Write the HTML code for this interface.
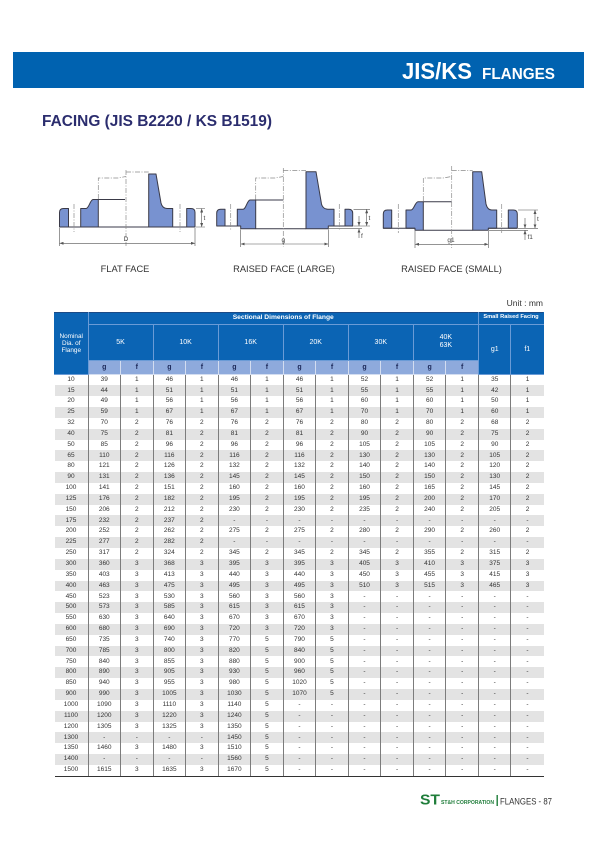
<!DOCTYPE html>
<html>
<head>
<meta charset="utf-8">
<style>
html,body{margin:0;padding:0;background:#fff;}
body{width:600px;height:848px;position:relative;overflow:hidden;font-family:"Liberation Sans",sans-serif;}
svg.ov{position:absolute;left:0;top:0;}
table.t{position:absolute;left:54px;top:312px;width:489px;border-collapse:collapse;table-layout:fixed;font-family:"Liberation Sans",sans-serif;}
table.t td{padding:0;text-align:center;vertical-align:middle;line-height:1;overflow:hidden;white-space:nowrap;}
.h td{background:#0b64b4;color:#fff;border:1px solid #6a9bd6;font-size:7px;}
.h1 td{border-top:1px solid #1b4a86;}
.h td.bl{border-left:1px solid #0b64b4;}
.h td.br{border-right:1px solid #0b64b4;}
.h1 td.s{font-weight:bold;font-size:6.7px;}
.h1 td.s2{font-weight:bold;font-size:5.7px;}
td.nom{font-size:6.4px;line-height:7px !important;}
.sub td{background:#8eaadc;color:#1c2858;font-weight:bold;border:1px solid #d3ddf0;font-size:7px;}
tbody.d td{font-size:6.5px;color:#333;border-left:1px solid #7c7c7c;border-right:1px solid #7c7c7c;height:10.85px;}
tbody.d tr{height:10.85px;}
tbody.d tr:nth-child(even) td{background:#e3e3e3;}
tbody.d td:first-child{border-left:none;}
tbody.d td:last-child{border-right:none;}
tbody.d tr:last-child td{border-bottom:1.5px solid #333;}
</style>
</head>
<body>
<svg class="ov" width="600" height="848" viewBox="0 0 600 848">
<defs>
<marker id="ar" markerUnits="userSpaceOnUse" markerWidth="4" markerHeight="3" refX="4" refY="1.5" orient="auto-start-reverse"><path d="M0,0 L4,1.5 L0,3 z" fill="#555"/></marker>
</defs>
<!-- header bar -->
<rect x="13" y="52" width="571" height="36" fill="#0062b0"/>
<text x="402" y="79" font-family="Liberation Sans" font-weight="bold" font-size="23" fill="#fff" textLength="70" lengthAdjust="spacingAndGlyphs">JIS/KS</text>
<text x="482" y="79" font-family="Liberation Sans" font-weight="bold" font-size="15.5" fill="#fff" textLength="73" lengthAdjust="spacingAndGlyphs">FLANGES</text>
<!-- title -->
<text x="42" y="126" font-family="Liberation Sans" font-weight="bold" font-size="15.4" fill="#2b2d6e" textLength="230" lengthAdjust="spacingAndGlyphs">FACING (JIS B2220 / KS B1519)</text>

<!-- ===== flange diagrams ===== -->
<g fill="#7892d0" stroke="#3a3a48" stroke-width="1" stroke-linejoin="round">
<!-- flange 1 flat face -->
<path d="M59.5,227 V212.5 Q59.5,208.5 63.5,208.5 H68.5 V227 Z"/>
<path d="M80.7,227 V208.5 H86 C89,208.5 90,200 93,199.5 H98.3 V227 Z"/>
<path d="M148.7,227 V174 H156 L161,203 C162,207 164,208.5 167,208.5 H172.7 V227 Z"/>
<path d="M186.7,227 V208.5 H191 Q195,208.5 195,212.5 V227 Z"/>
<!-- flange 2 raised face large -->
<path d="M216.7,226 V213.3 Q216.7,209.3 220.7,209.3 H225 V226 Z"/>
<path d="M237.3,226 H240.7 V228.7 H255.7 V200 H250 C247,200.5 246,209.3 243,209.3 H237.3 Z"/>
<path d="M306,228.7 V171.7 H316 L321.5,204 C322.5,208 325,209.3 329.3,209.3 H334 V226 H328.3 V228.7 Z"/>
<path d="M345,226 V209.3 H348.7 Q352.7,209.3 352.7,213.3 V226 Z"/>
<!-- flange 3 raised face small -->
<path d="M383.3,228.3 V214 Q383.3,210 387.3,210 H391.7 V228.3 Z"/>
<path d="M406,228.3 V210 H411 C414,210 415,202 418,201.7 H423.3 V230.3 H415 V228.3 Z"/>
<path d="M472.7,230.3 V171.7 H481.7 L486,204 C487,208 489,210 491.7,210 H496.7 V228.3 H488.3 V230.3 Z"/>
<path d="M508.3,228.3 V210 H513.3 Q517.3,210 517.3,214 V228.3 Z"/>
</g>
<g fill="none" stroke="#3a3a48" stroke-width="1">
<path d="M59.5,227 H195"/>
<path d="M98.3,199.5 H125"/>
<path d="M216.7,226 H240.7 M328.3,226 H352.7 M255.7,228.7 H306"/>
<path d="M255.7,200 H283.3"/>
<path d="M383.3,228.3 H415 M488.3,228.3 H517.3 M423.3,230.3 H472.7"/>
<path d="M423.3,201.7 H451.7"/>
</g>
<!-- dash-dot centre lines -->
<g fill="none" stroke="#8a8a8a" stroke-width="0.7" stroke-dasharray="5,1.5,1,1.5">
<path d="M74,204 V232 M180,204 V232 M126,170 V246"/>
<path d="M98.3,199 V178 H118 L126,176.5 M126,172 H148.7"/>
<path d="M230.7,204 V231 M339.3,204 V231 M283.3,168 V247"/>
<path d="M255.7,199.5 V178 H275 L283.3,176.5 M283.3,170.5 H306"/>
<path d="M398.3,204 V233 M501.7,204 V233 M451.7,166 V248"/>
<path d="M423.3,201 V178 H443 L451.7,176.5 M451.7,170.5 H472.7"/>
</g>
<!-- dimension lines -->
<g fill="none" stroke="#555" stroke-width="0.6">
<path d="M59.5,228 V246 M195,228 V246"/>
<line x1="59.5" y1="243.3" x2="195" y2="243.3" marker-start="url(#ar)" marker-end="url(#ar)"/>
<path d="M196,208.5 H205 M196,227 H205"/>
<line x1="201.7" y1="208.5" x2="201.7" y2="227" marker-start="url(#ar)" marker-end="url(#ar)"/>

<path d="M240.7,229.5 V247 M328.3,229.5 V247"/>
<line x1="240.7" y1="244" x2="328.3" y2="244" marker-start="url(#ar)" marker-end="url(#ar)"/>
<path d="M353.5,209.3 H370 M353.5,226 H370 M329,228.7 H362"/>
<line x1="366.7" y1="209.3" x2="366.7" y2="226" marker-start="url(#ar)" marker-end="url(#ar)"/>
<line x1="359" y1="216" x2="359" y2="226" marker-end="url(#ar)"/>
<line x1="359" y1="238" x2="359" y2="228.7" marker-end="url(#ar)"/>

<path d="M415,231 V248 M488.3,231 V248"/>
<line x1="415" y1="244.3" x2="488.3" y2="244.3" marker-start="url(#ar)" marker-end="url(#ar)"/>
<path d="M518,210 H538 M518,228.3 H538 M489,230.3 H528"/>
<line x1="535" y1="210" x2="535" y2="228.3" marker-start="url(#ar)" marker-end="url(#ar)"/>
<line x1="525" y1="218" x2="525" y2="228.3" marker-end="url(#ar)"/>
<line x1="525" y1="240" x2="525" y2="230.3" marker-end="url(#ar)"/>
</g>
<g font-family="Liberation Sans" font-size="6.5" fill="#444">
<text x="126" y="241" text-anchor="middle">D</text>
<text x="203.5" y="220">t</text>
<text x="283.3" y="242" text-anchor="middle">g</text>
<text x="368.5" y="220">t</text>
<text x="361" y="238">f</text>
<text x="451" y="242" text-anchor="middle">g1</text>
<text x="537" y="221">t</text>
<text x="527.5" y="239">f1</text>
</g>
<g font-family="Liberation Sans" font-size="9.3" fill="#333" text-anchor="middle">
<text x="125" y="272">FLAT FACE</text>
<text x="284" y="272">RAISED FACE (LARGE)</text>
<text x="451.5" y="272">RAISED FACE (SMALL)</text>
</g>
<text x="543" y="306" font-family="Liberation Sans" font-size="8.5" fill="#333" text-anchor="end">Unit : mm</text>

<!-- footer -->
<text x="420" y="804.5" font-family="Liberation Sans" font-weight="bold" font-size="15" fill="#1f7d3a" textLength="20" lengthAdjust="spacingAndGlyphs">ST</text>
<text x="441" y="804" font-family="Liberation Sans" font-weight="bold" font-size="5" fill="#1f7d3a" textLength="53" lengthAdjust="spacingAndGlyphs">ST&amp;H CORPORATION</text>
<rect x="496.5" y="795" width="1.4" height="11" fill="#1f7d3a"/>
<text x="500" y="804.5" font-family="Liberation Sans" font-size="9" fill="#333" textLength="52" lengthAdjust="spacingAndGlyphs">FLANGES - 87</text>
</svg>

<table class="t">
<colgroup>
<col style="width:33.5px">
<col style="width:32.54px"><col style="width:32.54px"><col style="width:32.54px"><col style="width:32.54px">
<col style="width:32.54px"><col style="width:32.54px"><col style="width:32.54px"><col style="width:32.54px">
<col style="width:32.54px"><col style="width:32.54px"><col style="width:32.54px"><col style="width:32.54px">
<col style="width:32.54px"><col style="width:32.54px">
</colgroup>
<tbody>
<tr class="h h1" style="height:11.5px"><td class="nom bl" rowspan="3">Nominal<br>Dia. of<br>Flange</td><td class="s" colspan="12">Sectional Dimensions of Flange</td><td class="s2 br" colspan="2">Small Raised Facing</td></tr>
<tr class="h" style="height:36.5px"><td colspan="2">5K</td><td colspan="2">10K</td><td colspan="2">16K</td><td colspan="2">20K</td><td colspan="2">30K</td><td colspan="2" style="line-height:8px">40K<br>63K</td><td rowspan="2">g1</td><td class="br" rowspan="2">f1</td></tr>
<tr class="sub" style="height:13.5px"><td>g</td><td>f</td><td>g</td><td>f</td><td>g</td><td>f</td><td>g</td><td>f</td><td>g</td><td>f</td><td>g</td><td>f</td></tr>
</tbody>
<tbody class="d">
<tr><td>10</td><td>39</td><td>1</td><td>46</td><td>1</td><td>46</td><td>1</td><td>46</td><td>1</td><td>52</td><td>1</td><td>52</td><td>1</td><td>35</td><td>1</td></tr>
<tr><td>15</td><td>44</td><td>1</td><td>51</td><td>1</td><td>51</td><td>1</td><td>51</td><td>1</td><td>55</td><td>1</td><td>55</td><td>1</td><td>42</td><td>1</td></tr>
<tr><td>20</td><td>49</td><td>1</td><td>56</td><td>1</td><td>56</td><td>1</td><td>56</td><td>1</td><td>60</td><td>1</td><td>60</td><td>1</td><td>50</td><td>1</td></tr>
<tr><td>25</td><td>59</td><td>1</td><td>67</td><td>1</td><td>67</td><td>1</td><td>67</td><td>1</td><td>70</td><td>1</td><td>70</td><td>1</td><td>60</td><td>1</td></tr>
<tr><td>32</td><td>70</td><td>2</td><td>76</td><td>2</td><td>76</td><td>2</td><td>76</td><td>2</td><td>80</td><td>2</td><td>80</td><td>2</td><td>68</td><td>2</td></tr>
<tr><td>40</td><td>75</td><td>2</td><td>81</td><td>2</td><td>81</td><td>2</td><td>81</td><td>2</td><td>90</td><td>2</td><td>90</td><td>2</td><td>75</td><td>2</td></tr>
<tr><td>50</td><td>85</td><td>2</td><td>96</td><td>2</td><td>96</td><td>2</td><td>96</td><td>2</td><td>105</td><td>2</td><td>105</td><td>2</td><td>90</td><td>2</td></tr>
<tr><td>65</td><td>110</td><td>2</td><td>116</td><td>2</td><td>116</td><td>2</td><td>116</td><td>2</td><td>130</td><td>2</td><td>130</td><td>2</td><td>105</td><td>2</td></tr>
<tr><td>80</td><td>121</td><td>2</td><td>126</td><td>2</td><td>132</td><td>2</td><td>132</td><td>2</td><td>140</td><td>2</td><td>140</td><td>2</td><td>120</td><td>2</td></tr>
<tr><td>90</td><td>131</td><td>2</td><td>136</td><td>2</td><td>145</td><td>2</td><td>145</td><td>2</td><td>150</td><td>2</td><td>150</td><td>2</td><td>130</td><td>2</td></tr>
<tr><td>100</td><td>141</td><td>2</td><td>151</td><td>2</td><td>160</td><td>2</td><td>160</td><td>2</td><td>160</td><td>2</td><td>165</td><td>2</td><td>145</td><td>2</td></tr>
<tr><td>125</td><td>176</td><td>2</td><td>182</td><td>2</td><td>195</td><td>2</td><td>195</td><td>2</td><td>195</td><td>2</td><td>200</td><td>2</td><td>170</td><td>2</td></tr>
<tr><td>150</td><td>206</td><td>2</td><td>212</td><td>2</td><td>230</td><td>2</td><td>230</td><td>2</td><td>235</td><td>2</td><td>240</td><td>2</td><td>205</td><td>2</td></tr>
<tr><td>175</td><td>232</td><td>2</td><td>237</td><td>2</td><td>-</td><td>-</td><td>-</td><td>-</td><td>-</td><td>-</td><td>-</td><td>-</td><td>-</td><td>-</td></tr>
<tr><td>200</td><td>252</td><td>2</td><td>262</td><td>2</td><td>275</td><td>2</td><td>275</td><td>2</td><td>280</td><td>2</td><td>290</td><td>2</td><td>260</td><td>2</td></tr>
<tr><td>225</td><td>277</td><td>2</td><td>282</td><td>2</td><td>-</td><td>-</td><td>-</td><td>-</td><td>-</td><td>-</td><td>-</td><td>-</td><td>-</td><td>-</td></tr>
<tr><td>250</td><td>317</td><td>2</td><td>324</td><td>2</td><td>345</td><td>2</td><td>345</td><td>2</td><td>345</td><td>2</td><td>355</td><td>2</td><td>315</td><td>2</td></tr>
<tr><td>300</td><td>360</td><td>3</td><td>368</td><td>3</td><td>395</td><td>3</td><td>395</td><td>3</td><td>405</td><td>3</td><td>410</td><td>3</td><td>375</td><td>3</td></tr>
<tr><td>350</td><td>403</td><td>3</td><td>413</td><td>3</td><td>440</td><td>3</td><td>440</td><td>3</td><td>450</td><td>3</td><td>455</td><td>3</td><td>415</td><td>3</td></tr>
<tr><td>400</td><td>463</td><td>3</td><td>475</td><td>3</td><td>495</td><td>3</td><td>495</td><td>3</td><td>510</td><td>3</td><td>515</td><td>3</td><td>465</td><td>3</td></tr>
<tr><td>450</td><td>523</td><td>3</td><td>530</td><td>3</td><td>560</td><td>3</td><td>560</td><td>3</td><td>-</td><td>-</td><td>-</td><td>-</td><td>-</td><td>-</td></tr>
<tr><td>500</td><td>573</td><td>3</td><td>585</td><td>3</td><td>615</td><td>3</td><td>615</td><td>3</td><td>-</td><td>-</td><td>-</td><td>-</td><td>-</td><td>-</td></tr>
<tr><td>550</td><td>630</td><td>3</td><td>640</td><td>3</td><td>670</td><td>3</td><td>670</td><td>3</td><td>-</td><td>-</td><td>-</td><td>-</td><td>-</td><td>-</td></tr>
<tr><td>600</td><td>680</td><td>3</td><td>690</td><td>3</td><td>720</td><td>3</td><td>720</td><td>3</td><td>-</td><td>-</td><td>-</td><td>-</td><td>-</td><td>-</td></tr>
<tr><td>650</td><td>735</td><td>3</td><td>740</td><td>3</td><td>770</td><td>5</td><td>790</td><td>5</td><td>-</td><td>-</td><td>-</td><td>-</td><td>-</td><td>-</td></tr>
<tr><td>700</td><td>785</td><td>3</td><td>800</td><td>3</td><td>820</td><td>5</td><td>840</td><td>5</td><td>-</td><td>-</td><td>-</td><td>-</td><td>-</td><td>-</td></tr>
<tr><td>750</td><td>840</td><td>3</td><td>855</td><td>3</td><td>880</td><td>5</td><td>900</td><td>5</td><td>-</td><td>-</td><td>-</td><td>-</td><td>-</td><td>-</td></tr>
<tr><td>800</td><td>890</td><td>3</td><td>905</td><td>3</td><td>930</td><td>5</td><td>960</td><td>5</td><td>-</td><td>-</td><td>-</td><td>-</td><td>-</td><td>-</td></tr>
<tr><td>850</td><td>940</td><td>3</td><td>955</td><td>3</td><td>980</td><td>5</td><td>1020</td><td>5</td><td>-</td><td>-</td><td>-</td><td>-</td><td>-</td><td>-</td></tr>
<tr><td>900</td><td>990</td><td>3</td><td>1005</td><td>3</td><td>1030</td><td>5</td><td>1070</td><td>5</td><td>-</td><td>-</td><td>-</td><td>-</td><td>-</td><td>-</td></tr>
<tr><td>1000</td><td>1090</td><td>3</td><td>1110</td><td>3</td><td>1140</td><td>5</td><td>-</td><td>-</td><td>-</td><td>-</td><td>-</td><td>-</td><td>-</td><td>-</td></tr>
<tr><td>1100</td><td>1200</td><td>3</td><td>1220</td><td>3</td><td>1240</td><td>5</td><td>-</td><td>-</td><td>-</td><td>-</td><td>-</td><td>-</td><td>-</td><td>-</td></tr>
<tr><td>1200</td><td>1305</td><td>3</td><td>1325</td><td>3</td><td>1350</td><td>5</td><td>-</td><td>-</td><td>-</td><td>-</td><td>-</td><td>-</td><td>-</td><td>-</td></tr>
<tr><td>1300</td><td>-</td><td>-</td><td>-</td><td>-</td><td>1450</td><td>5</td><td>-</td><td>-</td><td>-</td><td>-</td><td>-</td><td>-</td><td>-</td><td>-</td></tr>
<tr><td>1350</td><td>1460</td><td>3</td><td>1480</td><td>3</td><td>1510</td><td>5</td><td>-</td><td>-</td><td>-</td><td>-</td><td>-</td><td>-</td><td>-</td><td>-</td></tr>
<tr><td>1400</td><td>-</td><td>-</td><td>-</td><td>-</td><td>1560</td><td>5</td><td>-</td><td>-</td><td>-</td><td>-</td><td>-</td><td>-</td><td>-</td><td>-</td></tr>
<tr><td>1500</td><td>1615</td><td>3</td><td>1635</td><td>3</td><td>1670</td><td>5</td><td>-</td><td>-</td><td>-</td><td>-</td><td>-</td><td>-</td><td>-</td><td>-</td></tr>
</tbody>
</table>
</body>
</html>
